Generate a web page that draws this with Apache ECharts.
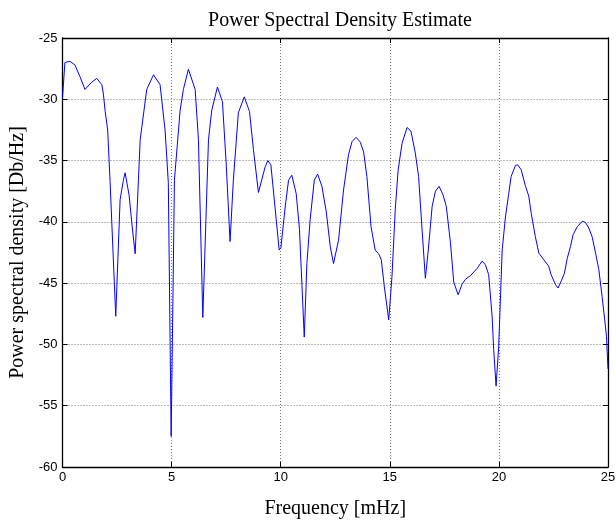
<!DOCTYPE html>
<html><head><meta charset="utf-8">
<script src="https://cdn.jsdelivr.net/npm/echarts@6/dist/echarts.min.js"></script>
<style>html,body{margin:0;padding:0;background:#fff}#c{width:616px;height:523px}</style>
</head><body><div id="c"></div>
<script>
const freq = [0.00,0.11,0.34,0.57,0.80,1.03,1.11,1.34,1.57,1.80,1.87,1.95,2.07,2.18,2.44,2.64,2.79,2.87,3.05,3.20,3.33,3.48,3.56,3.86,4.17,4.47,4.70,4.85,4.98,5.13,5.39,5.54,5.77,6.08,6.23,6.43,6.69,6.84,7.10,7.33,7.50,7.68,7.83,8.06,8.33,8.57,8.75,8.98,9.06,9.29,9.41,9.55,9.75,9.93,10.01,10.21,10.36,10.51,10.71,10.86,11.08,11.20,11.35,11.54,11.69,11.89,12.09,12.27,12.42,12.50,12.65,12.88,13.11,13.27,13.45,13.65,13.80,13.95,14.14,14.33,14.49,14.61,14.75,14.95,15.10,15.25,15.38,15.56,15.79,15.97,16.17,16.32,16.48,16.63,16.75,16.94,17.09,17.26,17.44,17.59,17.78,17.93,18.13,18.31,18.46,18.69,18.77,19.00,19.23,19.38,19.53,19.69,19.76,19.87,19.99,20.15,20.30,20.45,20.56,20.76,20.86,21.02,21.22,21.37,21.48,21.67,21.83,22.06,22.28,22.39,22.59,22.71,22.85,23.00,23.13,23.28,23.40,23.59,23.82,23.97,24.12,24.27,24.43,24.58,24.73,24.85,24.93,25.00];
const psd = [-29.9,-27.0,-26.9,-27.2,-28.15,-29.2,-29.1,-28.6,-28.3,-28.8,-29.5,-30.9,-32.5,-36.7,-47.7,-38.2,-36.6,-36.0,-37.8,-40.5,-42.6,-36.6,-33.3,-29.2,-28.0,-28.8,-32.5,-36.8,-57.5,-36.6,-30.9,-29.2,-27.55,-29.2,-33.3,-47.8,-33.3,-30.9,-29.0,-30.2,-35.2,-41.6,-36.6,-31.1,-29.8,-31.0,-34.1,-37.6,-37.6,-35.5,-35.0,-35.35,-39.0,-42.3,-42.1,-38.7,-36.6,-36.2,-37.7,-40.6,-49.4,-43.4,-39.8,-36.6,-36.1,-37.1,-39.2,-42.0,-43.4,-43.4,-41.5,-37.4,-34.5,-33.45,-33.1,-33.5,-34.3,-36.3,-40.4,-42.3,-42.6,-43.1,-45.3,-48.0,-44.45,-39.0,-35.8,-33.6,-32.3,-32.6,-34.4,-36.3,-40.65,-44.6,-42.55,-38.75,-37.5,-37.1,-37.8,-38.75,-41.7,-44.9,-45.95,-45.1,-44.7,-44.4,-44.4,-43.8,-43.2,-43.5,-44.3,-47.7,-50.4,-53.4,-50.2,-42.3,-39.6,-37.7,-36.3,-35.4,-35.35,-35.75,-37.1,-37.9,-39.3,-41.2,-42.55,-43.1,-43.6,-44.3,-45.1,-45.4,-44.85,-44.2,-43.0,-42.0,-41.05,-40.4,-39.95,-40.05,-40.5,-41.2,-42.55,-43.9,-46.1,-48.0,-49.35,-52.0];
const xTicks = [0,5,10,15,20,25];
const yTicks = [-60,-55,-50,-45,-40,-35,-30,-25];
const titleText = 'Power Spectral Density Estimate';
const xName = 'Frequency [mHz]';
const yName = 'Power spectral density [Db/Hz]';

const chart = echarts.init(document.getElementById('c'), null, {renderer:'canvas'});
const serif = '"Liberation Serif","Times New Roman",serif';
const sans = '"Liberation Sans",Arial,sans-serif';
const gridLine = {show:true, lineStyle:{color:'#777', type:[1,2], width:1}};
const baseX = {type:'value', min:0, max:25, interval:5};
const baseY = {type:'value', min:-60, max:-25, interval:5};
chart.setOption({
  animation:false,
  title:{text:titleText, left:335, top:6, textAlign:'center',
    textStyle:{fontFamily:serif, fontSize:20, fontWeight:'normal', color:'#000'}},
  grid:{left:62.5, right:8, top:38, bottom:56, show:false, outerBoundsMode:'none', containLabel:false},
  xAxis:[
    Object.assign({}, baseX, {position:'bottom', name:xName, nameLocation:'middle', nameGap:32,
      nameTextStyle:{fontFamily:serif, fontSize:20, color:'#000'},
      axisLine:{show:true, onZero:false, lineStyle:{color:'#000', width:1.3}},
      axisTick:{show:true, inside:true, length:5, lineStyle:{color:'#000'}},
      axisLabel:{fontFamily:sans, fontSize:13, color:'#000', margin:4, formatter:v=>xTicks.includes(v)?String(v):''},
      splitLine:gridLine}),
    Object.assign({}, baseX, {position:'top',
      axisLine:{show:true, onZero:false, lineStyle:{color:'#000', width:1.3}},
      axisTick:{show:true, inside:true, length:5, lineStyle:{color:'#000'}},
      axisLabel:{show:false}, splitLine:{show:false}})
  ],
  yAxis:[
    Object.assign({}, baseY, {position:'left', name:yName, nameLocation:'middle', nameGap:31.5, nameRotate:90,
      nameTextStyle:{fontFamily:serif, fontSize:20, color:'#000'},
      axisLine:{show:true, onZero:false, lineStyle:{color:'#000', width:1.3}},
      axisTick:{show:true, inside:true, length:5, lineStyle:{color:'#000'}},
      axisLabel:{fontFamily:sans, fontSize:13, color:'#000', margin:5, formatter:v=>yTicks.includes(v)?String(v):''},
      splitLine:gridLine}),
    Object.assign({}, baseY, {position:'right',
      axisLine:{show:true, onZero:false, lineStyle:{color:'#000', width:1.3}},
      axisTick:{show:true, inside:true, length:5, lineStyle:{color:'#000'}},
      axisLabel:{show:false}, splitLine:{show:false}})
  ],
  series:[{type:'line', xAxisIndex:0, yAxisIndex:0, showSymbol:false, symbol:'none',
    lineStyle:{color:'#0000ff', width:1}, data:freq.map((f,i)=>[f,psd[i]])}]
});
</script></body></html>
